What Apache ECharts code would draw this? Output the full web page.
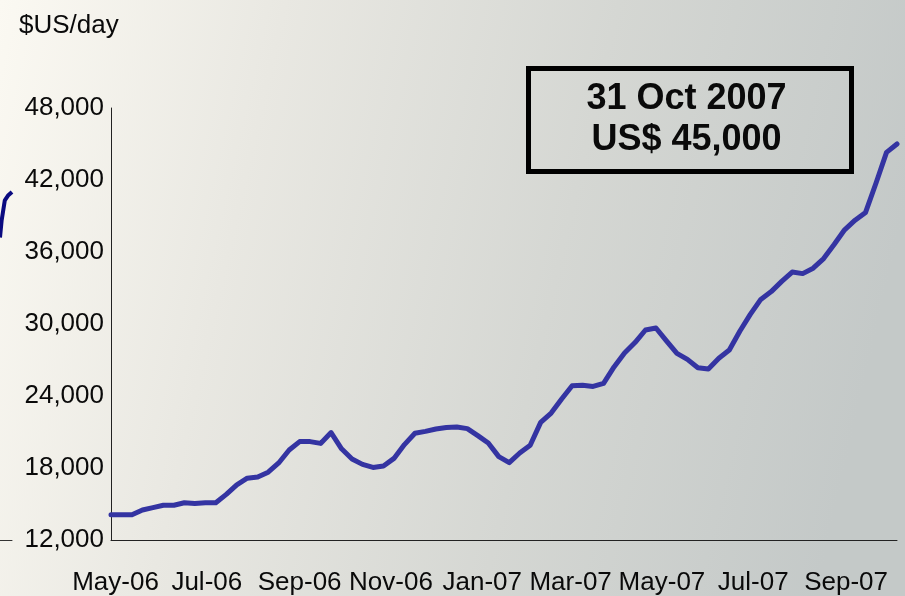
<!DOCTYPE html>
<html>
<head>
<meta charset="utf-8">
<script src="https://cdn.jsdelivr.net/npm/echarts@6/dist/echarts.min.js"></script>
<style>
  html, body { margin: 0; padding: 0; }
  #chart { width: 905px; height: 596px; }
</style>
</head>
<body>
<div id="chart"></div>
<script>
// Weekly time-charter rate, $US/day, first week starting 28 Apr 2006
const firstWeek = [2006, 3, 28];
const weeklyRates = [
  14100, 14100, 14100, 14500, 14700, 14900, 14900, 15100, 15050, 15100,
  15100, 15800, 16600, 17150, 17250, 17650, 18420, 19500, 20200, 20200,
  20050, 20950, 19600, 18750, 18300, 18050, 18170, 18800, 19950, 20900,
  21050, 21250, 21380, 21420, 21280, 20700, 20080, 18950, 18450, 19250,
  19900, 21800, 22580, 23750, 24850, 24900, 24800, 25050, 26420, 27580,
  28450, 29500, 29670, 28600, 27550, 27050, 26350, 26250, 27150, 27830,
  29400, 30800, 32050, 32700, 33550, 34330, 34200, 34650, 35450, 36620,
  37850, 38650, 39300, 41750, 44300, 45000
];

// Month labels on the date axis: [year, monthIndex]
const monthTicks = [
  [2006, 4], [2006, 6], [2006, 8], [2006, 10], [2007, 0],
  [2007, 2], [2007, 4], [2007, 6], [2007, 8]
];
const monthNames = ['Jan','Feb','Mar','Apr','May','Jun','Jul','Aug','Sep','Oct','Nov','Dec'];

const yTicks = [12000, 18000, 24000, 30000, 36000, 42000, 48000];

// Piece of a neighbouring trace at the far left edge
const edgeTrace = [[0, 37200], [0.4, 38600], [1.2, 40300], [2, 40700], [3, 41000]];

const noteDate = '31 Oct 2007';
const noteValue = 'US$ 45,000';

const DAY = 24 * 3600 * 1000;
const t0 = new Date(firstWeek[0], firstWeek[1], firstWeek[2]).getTime();
const series = weeklyRates.map((v, i) => [t0 + i * 7 * DAY, v]);
const tickTimes = monthTicks.map(([y, m]) => new Date(y, m, 1).getTime());

const chart = echarts.init(document.getElementById('chart'), null, { renderer: 'canvas' });

const font = 'Liberation Sans, Arial, sans-serif';

chart.setOption({
  animation: false,
  textStyle: { fontFamily: font },
  graphic: [
    {
      type: 'rect', z: -10, silent: true,
      shape: { x: 0, y: 0, width: 905, height: 596 },
      style: {
        fill: new echarts.graphic.LinearGradient(0, 0, 1, 0.35, [
          { offset: 0, color: '#fbf9f2' },
          { offset: 0.3, color: '#e9e8e2' },
          { offset: 0.65, color: '#d5d7d3' },
          { offset: 1, color: '#c4c9c8' }
        ])
      }
    },
    {
      type: 'group', left: 526, top: 66,
      children: [
        {
          type: 'rect',
          shape: { x: 2, y: 2, width: 323, height: 103 },
          style: { fill: 'rgba(0,0,0,0)', stroke: '#000', lineWidth: 5 }
        },
        {
          type: 'text', x: 160, y: 33,
          style: {
            text: noteDate, font: 'bold 36px ' + font, fill: '#0a0a0a',
            align: 'center', verticalAlign: 'middle'
          }
        },
        {
          type: 'text', x: 160, y: 74,
          style: {
            text: noteValue, font: 'bold 36px ' + font, fill: '#0a0a0a',
            align: 'center', verticalAlign: 'middle'
          }
        }
      ]
    }
  ],
  title: {
    text: '$US/day', left: 14, top: 8,
    textStyle: { fontSize: 26, fontWeight: 'normal', color: '#0a0a0a', fontFamily: font }
  },
  grid: [
    { left: 111, right: 8, top: 108, bottom: 56 },
    { left: 0, width: 12, top: 108, bottom: 56 }
  ],
  xAxis: [
    {
      type: 'value', gridIndex: 0,
      min: t0, max: series[series.length - 1][0],
      axisLine: { lineStyle: { color: '#222', width: 1 } },
      axisTick: { show: false },
      splitLine: { show: false },
      axisLabel: {
        customValues: tickTimes,
        margin: 30, fontSize: 26, color: '#0a0a0a', fontFamily: font,
        formatter: v => {
          const d = new Date(v);
          return monthNames[d.getMonth()] + '-' + String(d.getFullYear()).slice(2);
        }
      }
    },
    {
      type: 'value', gridIndex: 1, min: 0, max: 3,
      axisLine: { show: true, onZero: false, lineStyle: { color: '#333' } },
      axisTick: { show: false }, axisLabel: { show: false }, splitLine: { show: false }
    }
  ],
  yAxis: [
    {
      type: 'value', gridIndex: 0, min: 12000, max: 48000, interval: 6000,
      axisLine: { show: true, lineStyle: { color: '#222', width: 1 } },
      axisTick: { show: false },
      splitLine: { show: false },
      axisLabel: {
        customValues: yTicks,
        margin: 7, fontSize: 26, color: '#0a0a0a', fontFamily: font,
        formatter: v => v.toLocaleString('en-US')
      }
    },
    {
      type: 'value', gridIndex: 1, min: 12000, max: 48000,
      show: false
    }
  ],
  series: [
    {
      type: 'line', xAxisIndex: 0, yAxisIndex: 0,
      data: series, showSymbol: false,
      lineStyle: { color: '#3434a2', width: 5, join: 'round', cap: 'round' }
    },
    {
      type: 'line', xAxisIndex: 1, yAxisIndex: 1,
      data: edgeTrace, showSymbol: false, clip: true,
      lineStyle: { color: '#0b0b80', width: 4 }
    }
  ]
});
</script>
</body>
</html>
